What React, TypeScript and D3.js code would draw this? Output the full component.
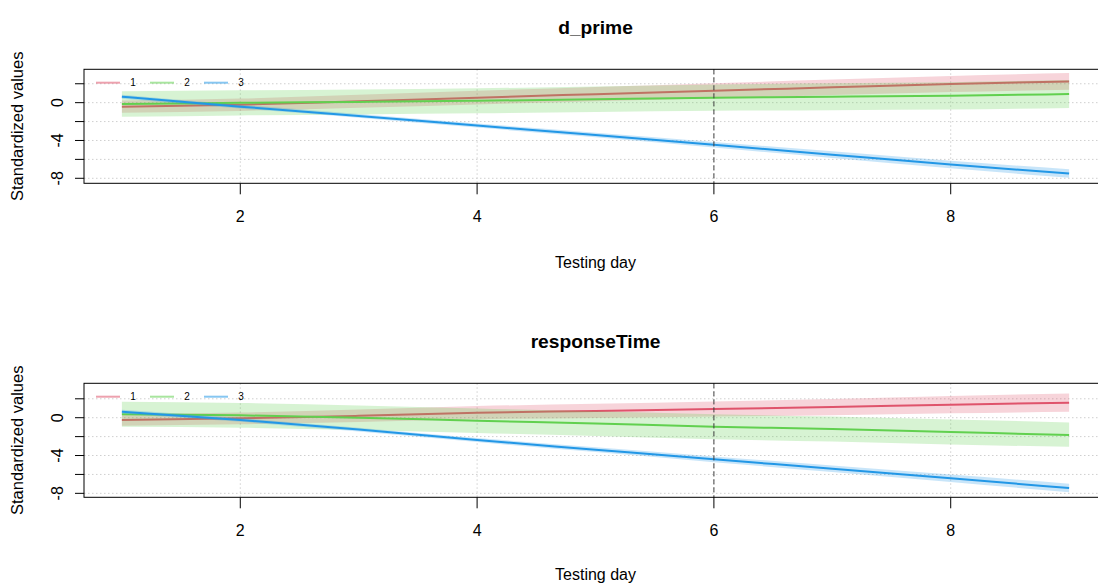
import React from 'react';
import * as d3 from 'd3';

// testing days
const days = [1, 2, 3, 4, 5, 6, 7, 8, 9];
const groups = ['1', '2', '3'];
const colors = ['#DF536B', '#61D04F', '#2297E6'];

// d_prime
const dpMean1 = [-0.42, -0.22, 0.15, 0.53, 0.9, 1.26, 1.62, 1.97, 2.25];
const dpLo1 = [-1.07, -0.87, -0.55, -0.19, 0.15, 0.46, 0.8, 1.12, 1.37];
const dpHi1 = [0.23, 0.43, 0.85, 1.25, 1.65, 2.06, 2.44, 2.82, 3.13];
const dpMean2 = [-0.14, -0.02, 0.08, 0.2, 0.36, 0.53, 0.63, 0.72, 0.92];
const dpLo2 = [-1.49, -1.35, -1.24, -1.12, -0.99, -0.85, -0.79, -0.73, -0.56];
const dpHi2 = [1.21, 1.31, 1.4, 1.52, 1.71, 1.91, 2.05, 2.17, 2.4];
const dpMean3 = [0.63, -0.42, -1.4, -2.42, -3.42, -4.45, -5.5, -6.55, -7.5];
const dpLo3 = [0.41, -0.62, -1.6, -2.64, -3.67, -4.75, -5.85, -6.95, -7.95];
const dpHi3 = [0.85, -0.22, -1.2, -2.2, -3.17, -4.15, -5.15, -6.15, -7.05];

// responseTime
const rtMean1 = [-0.24, -0.07, 0.2, 0.53, 0.72, 0.92, 1.12, 1.38, 1.59];
const rtLo1 = [-0.84, -0.69, -0.46, -0.17, -0.03, 0.12, 0.26, 0.46, 0.62];
const rtHi1 = [0.36, 0.55, 0.86, 1.23, 1.47, 1.72, 1.98, 2.3, 2.56];
const rtMean2 = [0.36, 0.25, 0.0, -0.32, -0.62, -0.95, -1.2, -1.51, -1.83];
const rtLo2 = [-0.96, -1.06, -1.3, -1.62, -1.93, -2.27, -2.52, -2.84, -3.08];
const rtHi2 = [1.68, 1.56, 1.3, 0.98, 0.69, 0.37, 0.12, -0.18, -0.5];
const rtMean3 = [0.63, -0.24, -1.25, -2.36, -3.38, -4.4, -5.4, -6.41, -7.44];
const rtLo3 = [0.41, -0.44, -1.45, -2.58, -3.63, -4.7, -5.75, -6.81, -7.89];
const rtHi3 = [0.85, -0.04, -1.05, -2.14, -3.13, -4.1, -5.05, -6.01, -6.99];

const xTicks = [2, 4, 6, 8];
const yTicks = [-8, -6, -4, -2, 0, 2];
const yTickLabels = [-8, -4, 0];
const vLine = 6;

const panels = [
  {
    title: 'd_prime', top: 69.3, bottom: 183.3, yDomain: [-8.53, 3.53],
    series: [
      { mean: dpMean1, lo: dpLo1, hi: dpHi1 },
      { mean: dpMean2, lo: dpLo2, hi: dpHi2 },
      { mean: dpMean3, lo: dpLo3, hi: dpHi3 },
    ],
  },
  {
    title: 'responseTime', top: 383.3, bottom: 497.3, yDomain: [-8.42, 3.64],
    series: [
      { mean: rtMean1, lo: rtLo1, hi: rtHi1 },
      { mean: rtMean2, lo: rtLo2, hi: rtHi2 },
      { mean: rtMean3, lo: rtLo3, hi: rtHi3 },
    ],
  },
];

const W = 1098;
const H = 583;
const font = 'Liberation Sans, Arial, sans-serif';

const x = d3.scaleLinear().domain([0.68, 9.32]).range([84, 1107]);

function Panel({ p }: { p: typeof panels[number] }) {
  const y = d3.scaleLinear().domain(p.yDomain).range([p.bottom, p.top]);
  const [x0, x1] = x.range();
  const line = d3.line<number>().x((_, i) => x(days[i])).y(d => y(d)).curve(d3.curveMonotoneX);
  const cx = (x0 + x1) / 2;
  const midY = (p.top + p.bottom) / 2;

  return (
    <g>
      {/* grid */}
      {yTicks.map(t => (
        <line key={'gy' + t} x1={x0} x2={x1} y1={y(t)} y2={y(t)}
          stroke="#cfcfcf" strokeDasharray="1.5 2.5" />
      ))}
      {xTicks.map(t => (
        <line key={'gx' + t} x1={x(t)} x2={x(t)} y1={p.top} y2={p.bottom}
          stroke="#cfcfcf" strokeDasharray="1.5 2.5" />
      ))}

      {/* bands + lines */}
      {p.series.map((s, k) => {
        const area = d3.area<number>()
          .x((_, i) => x(days[i]))
          .y0((_, i) => y(s.lo[i]))
          .y1((_, i) => y(s.hi[i]))
          .curve(d3.curveMonotoneX);
        return (
          <g key={k}>
            <path d={area(s.mean) || ''} fill={colors[k]} fillOpacity={0.25} />
            <path d={line(s.mean) || ''} fill="none" stroke={colors[k]} strokeWidth={2} />
          </g>
        );
      })}

      {/* dashed reference day */}
      <line x1={x(vLine)} x2={x(vLine)} y1={p.top} y2={p.bottom}
        stroke="#404040" strokeDasharray="5 3" />

      {/* legend */}
      {groups.map((g, k) => (
        <g key={'lg' + g}>
          <line x1={96 + k * 54} x2={120 + k * 54} y1={p.top + 13.4} y2={p.top + 13.4}
            stroke={colors[k]} strokeOpacity={0.55} strokeWidth={2} />
          <text x={133 + k * 54} y={p.top + 13.4} dy="0.35em" fontSize={10}
            textAnchor="middle" fontFamily={font}>{g}</text>
        </g>
      ))}

      {/* box */}
      <rect x={x0} y={p.top} width={x1 - x0} height={p.bottom - p.top}
        fill="none" stroke="#000" strokeWidth={1} />

      {/* y axis */}
      {yTicks.map(t => (
        <line key={'ty' + t} x1={x0 - 9} x2={x0} y1={y(t)} y2={y(t)} stroke="#000" />
      ))}
      {yTickLabels.map(t => (
        <text key={'ly' + t} transform={`translate(57,${y(t)}) rotate(-90)`}
          textAnchor="middle" dy="0.35em" fontSize={16} fontFamily={font}>{t}</text>
      ))}

      {/* x axis */}
      {xTicks.map(t => (
        <g key={'tx' + t}>
          <line x1={x(t)} x2={x(t)} y1={p.bottom} y2={p.bottom + 11} stroke="#000" />
          <text x={x(t)} y={p.bottom + 33.5} dy="0.35em" textAnchor="middle"
            fontSize={16} fontFamily={font}>{t}</text>
        </g>
      ))}

      {/* titles */}
      <text x={cx} y={p.top - 35.8} textAnchor="middle" fontSize={19.2}
        fontWeight="bold" fontFamily={font}>{p.title}</text>
      <text x={cx} y={Math.min(p.bottom + 79, H - 9)} dy="0.35em" textAnchor="middle"
        fontSize={16} fontFamily={font}>Testing day</text>
      <text transform={`translate(17,${midY}) rotate(-90)`} dy="0.35em"
        textAnchor="middle" fontSize={16.5} fontFamily={font}>Standardized values</text>
    </g>
  );
}

export default function App() {
  return (
    <svg width={W} height={H} style={{ position: 'absolute', left: 0, top: 0, background: '#fff' }}>
      {panels.map(p => <Panel key={p.title} p={p} />)}
    </svg>
  );
}
